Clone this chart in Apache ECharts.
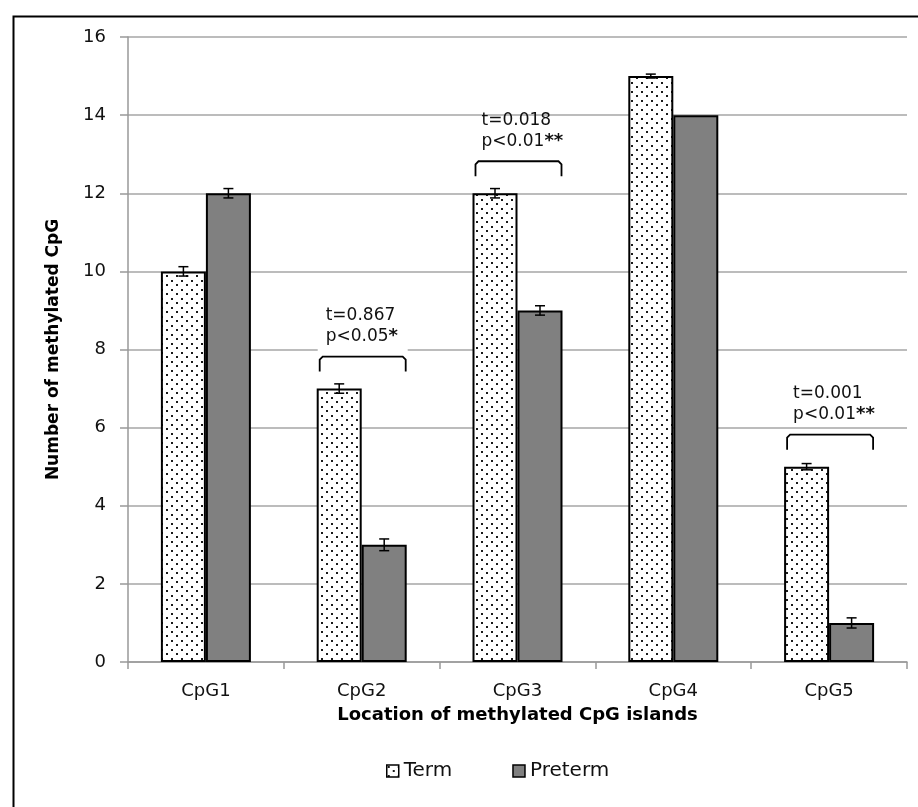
<!DOCTYPE html>
<html>
<head>
<meta charset="utf-8">
<script src="https://cdn.jsdelivr.net/npm/echarts@6/dist/echarts.min.js"></script>
<style>
  html, body { margin: 0; padding: 0; background: #ffffff; }
  #chart { width: 918px; height: 807px; }
</style>
</head>
<body>
<div id="chart"></div>
<script>
// ---- data ----
var categories = ['CpG1', 'CpG2', 'CpG3', 'CpG4', 'CpG5'];
var termValues = [10, 7, 12, 15, 5];
var pretermValues = [12, 3, 9, 14, 1];
var termErrors = [0.12, 0.12, 0.12, 0.05, 0.08];
var pretermErrors = [0.12, 0.15, 0.12, 0, 0.13];
var yTicks = [0, 2, 4, 6, 8, 10, 12, 14, 16];
var annCategories = ['CpG2', 'CpG3', 'CpG5'];
var annT = ['t=0.867', 't=0.018', 't=0.001'];
var annP = ['p<0.05', 'p<0.01', 'p<0.01'];
var annStars = ['*', '**', '**'];
var annOpaqueBox = [true, false, false];
var seriesNames = ['Term', 'Preterm'];

// ---- dotted pattern ----
function makeDots() {
  var c = document.createElement('canvas');
  c.width = 10; c.height = 9;
  var g = c.getContext('2d');
  g.fillStyle = '#ffffff';
  g.fillRect(0, 0, 10, 9);
  g.fillStyle = '#1a1a1a';
  g.fillRect(1, 1, 2, 2);
  g.fillRect(6, 5, 2, 2);
  return c;
}
var dotPattern = { image: makeDots(), repeat: 'repeat' };

var FONT = 'DejaVu Sans';
var BAR_W = 45;

var chart = echarts.init(document.getElementById('chart'), null, { renderer: 'canvas' });

function errRender(values, errors, side) {
  return function (params, api) {
    var i = api.value(0);
    var v = values[i], e = errors[i];
    if (!e) return null;
    var top = api.coord([i, v + e]);
    var bot = api.coord([i, v - e]);
    var x = top[0] + side * BAR_W / 2;
    var st = { stroke: '#000', lineWidth: 1.5 };
    return {
      type: 'group',
      children: [
        { type: 'line', shape: { x1: x, y1: top[1], x2: x, y2: bot[1] }, style: st },
        { type: 'line', shape: { x1: x - 5, y1: top[1], x2: x + 5, y2: top[1] }, style: st },
        { type: 'line', shape: { x1: x - 5, y1: bot[1], x2: x + 5, y2: bot[1] }, style: st }
      ]
    };
  };
}

function annRender(params, api) {
  var k = params.dataIndex;
  var i = categories.indexOf(annCategories[k]);
  var maxV = Math.max(termValues[i], pretermValues[i]);
  var c = api.coord([i, maxV]);
  var cx = c[0];
  var topY = c[1] - 32;
  var x1 = cx - 42, x2 = cx + 44;
  var legH = 15;
  var st = { stroke: '#000', lineWidth: 1.8, fill: null };
  var children = [];
  if (annOpaqueBox[k]) {
    children.push({ type: 'rect', shape: { x: cx - 44, y: topY - 52, width: 90, height: 48 }, style: { fill: '#ffffff' } });
  }
  children.push(
    { type: 'polyline', shape: { points: [[x1, topY + legH], [x1, topY + 3], [x1 + 3, topY], [x2 - 3, topY], [x2, topY + 3], [x2, topY + legH]] }, style: st },
    { type: 'text', x: cx - 36, y: topY - 41, style: { text: annT[k], fill: '#111', font: '17px "' + FONT + '"', verticalAlign: 'middle', align: 'left' } },
    { type: 'text', x: cx - 36, y: topY - 20, style: {
        text: '{a|' + annP[k] + '}{b|' + annStars[k] + '}', verticalAlign: 'middle', align: 'left',
        rich: {
          a: { fontFamily: FONT, fontSize: 17, fill: '#111', color: '#111' },
          b: { fontFamily: FONT, fontSize: 18, fontWeight: 'bold', fill: '#111', color: '#111', verticalAlign: 'top' }
        } } }
  );
  return { type: 'group', children: children };
}

var option = {
  backgroundColor: '#ffffff',
  animation: false,
  textStyle: { fontFamily: FONT },
  graphic: [
    { type: 'rect', left: 11, top: 14, shape: { x: 0, y: 0, width: 1000, height: 1000 }, style: { fill: null, stroke: '#000', lineWidth: 2 }, z: 100 }
  ],
  grid: { left: 128, right: 11, top: 37, bottom: 145, containLabel: false },
  legend: {
    data: [
      { name: seriesNames[0], itemStyle: { color: dotPattern, borderColor: '#000', borderWidth: 1.5 } },
      { name: seriesNames[1], itemStyle: { color: '#808080', borderColor: '#000', borderWidth: 1.5 } }
    ],
    left: 386, top: 761, padding: 0,
    itemWidth: 12, itemHeight: 12, itemGap: 60,
    icon: 'rect',
    textStyle: { fontFamily: FONT, fontSize: 20, color: '#111' },
    selectedMode: false
  },
  xAxis: {
    type: 'category',
    data: categories,
    name: 'Location of methylated CpG islands',
    nameLocation: 'middle',
    nameGap: 44,
    nameTextStyle: { fontFamily: FONT, fontSize: 18, fontWeight: 'bold', color: '#000' },
    axisLine: { lineStyle: { color: '#999', width: 1.5 } },
    axisTick: { show: true, length: 7, alignWithLabel: false, lineStyle: { color: '#999', width: 1.5 } },
    axisLabel: { fontFamily: FONT, fontSize: 18, color: '#111', margin: 20 },
    splitLine: { show: false }
  },
  yAxis: {
    type: 'value',
    min: 0, max: 16, interval: 2,
    name: 'Number of methylated CpG',
    nameLocation: 'middle',
    nameGap: 66,
    nameRotate: 90,
    nameTextStyle: { fontFamily: FONT, fontSize: 17, fontWeight: 'bold', color: '#000' },
    axisLine: { show: true, lineStyle: { color: '#999', width: 1.5 } },
    axisTick: { show: true, length: 8, lineStyle: { color: '#999', width: 1.5 } },
    axisLabel: { fontFamily: FONT, fontSize: 18, color: '#111', margin: 22,
      formatter: function (v) { return yTicks.indexOf(v) >= 0 ? String(v) : ''; } },
    splitLine: { show: true, lineStyle: { color: '#a6a6a6', width: 1.5 } }
  },
  series: [
    {
      name: seriesNames[0], type: 'bar', data: termValues,
      barWidth: BAR_W, barGap: '0%',
      itemStyle: { color: dotPattern, borderColor: '#000', borderWidth: 2 },
      z: 2
    },
    {
      name: seriesNames[1], type: 'bar', data: pretermValues,
      barWidth: BAR_W, barGap: '0%',
      itemStyle: { color: '#808080', borderColor: '#000', borderWidth: 2 },
      z: 2
    },
    {
      type: 'custom', name: 'termErr', data: categories.map(function (c, i) { return [i]; }),
      renderItem: errRender(termValues, termErrors, -1), z: 5, silent: true
    },
    {
      type: 'custom', name: 'pretermErr', data: categories.map(function (c, i) { return [i]; }),
      renderItem: errRender(pretermValues, pretermErrors, 1), z: 5, silent: true
    },
    {
      type: 'custom', name: 'annotations', data: annCategories.map(function (c) { return [categories.indexOf(c)]; }),
      renderItem: annRender, z: 6, silent: true
    }
  ]
};
chart.setOption(option);
</script>
</body>
</html>
